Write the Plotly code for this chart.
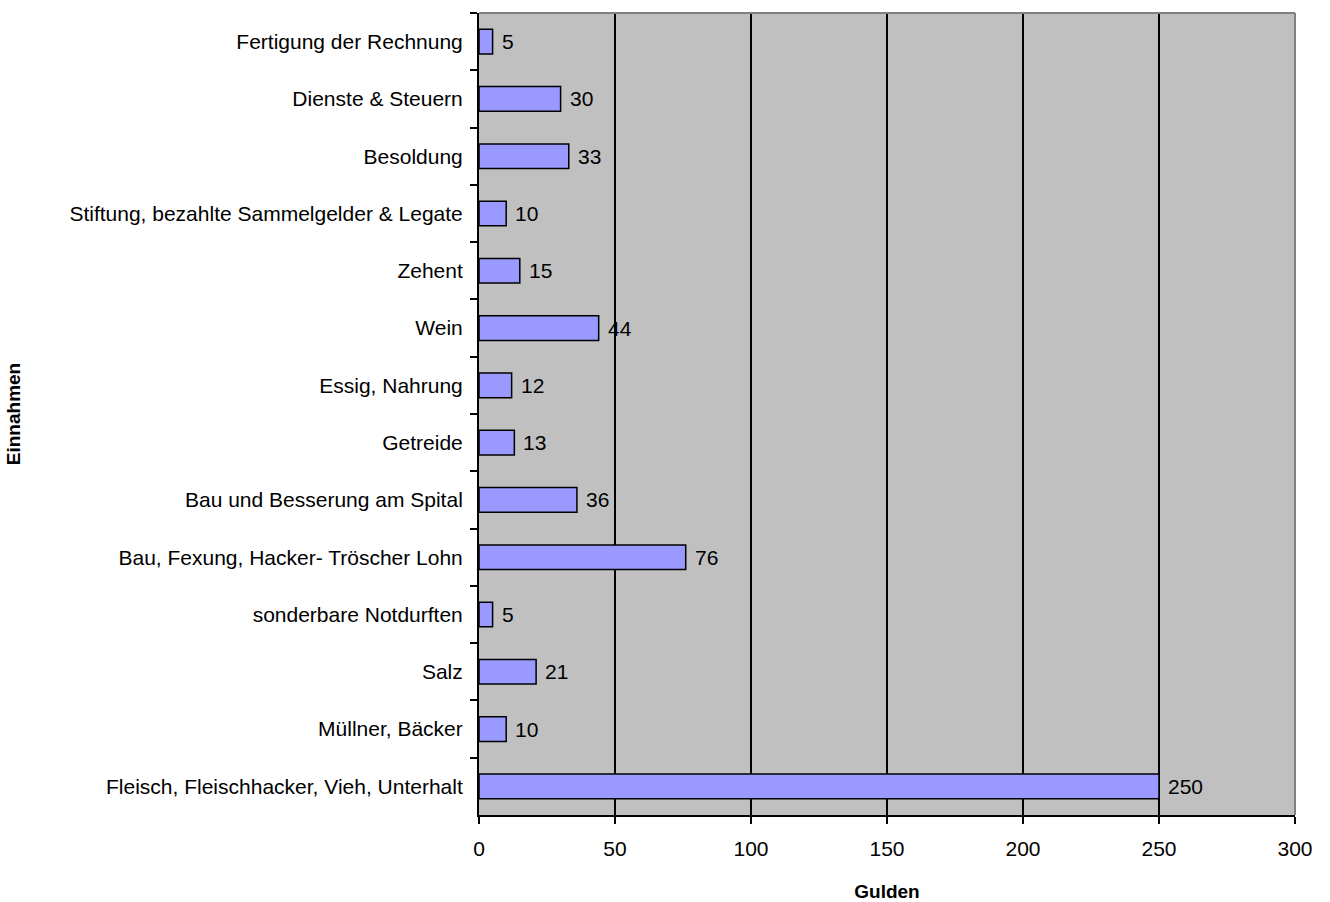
import plotly.graph_objects as go

# Ausgaben-Kategorien (von oben nach unten) und Beträge in Gulden
categories = [
    "Fertigung der Rechnung",
    "Dienste & Steuern",
    "Besoldung",
    "Stiftung, bezahlte Sammelgelder & Legate",
    "Zehent",
    "Wein",
    "Essig, Nahrung",
    "Getreide",
    "Bau und Besserung am Spital",
    "Bau, Fexung, Hacker- Tröscher Lohn",
    "sonderbare Notdurften",
    "Salz",
    "Müllner, Bäcker",
    "Fleisch, Fleischhacker, Vieh, Unterhalt",
]
values = [5, 30, 33, 10, 15, 44, 12, 13, 36, 76, 5, 21, 10, 250]
x_ticks = [0, 50, 100, 150, 200, 250, 300]

FONT = "Liberation Sans, Arial, sans-serif"
FS = 21

fig = go.Figure(
    go.Bar(
        x=values,
        y=categories,
        orientation="h",
        marker=dict(color="#9999FF", line=dict(color="black", width=1.5)),
        width=0.43,
        hoverinfo="x+y",
    )
)

# Wertbeschriftungen rechts neben jedem Balken
for cat, val in zip(categories, values):
    fig.add_annotation(
        x=val, y=cat, xref="x", yref="y",
        text=str(val), showarrow=False,
        xanchor="left", yanchor="middle", xshift=7,
        font=dict(family=FONT, size=FS, color="black"),
    )

fig.update_layout(
    width=1330,
    height=902,
    margin=dict(l=479, r=35, t=13, b=87),
    paper_bgcolor="white",
    plot_bgcolor="#C0C0C0",
    font=dict(family=FONT, size=FS, color="black"),
    showlegend=False,
    xaxis=dict(
        range=[0, 300],
        tickvals=x_ticks,
        automargin=False,
        showgrid=True,
        gridcolor="black",
        gridwidth=1.5,
        zeroline=False,
        showline=True,
        linecolor="black",
        linewidth=2,
        ticks="outside",
        ticklen=7,
        tickwidth=2,
        tickcolor="black",
        ticklabelstandoff=7,
        title=dict(text="<b>Gulden</b>", font=dict(size=19), standoff=31),
    ),
    yaxis=dict(
        autorange="reversed",
        automargin=False,
        showgrid=False,
        zeroline=False,
        showline=True,
        linecolor="black",
        linewidth=2,
        ticks="outside",
        tickson="boundaries",
        ticklen=7,
        tickwidth=2,
        tickcolor="black",
        ticklabelstandoff=10,
        title=dict(text="<b>Einnahmen</b>", font=dict(size=19), standoff=44),
    ),
    shapes=[
        dict(type="line", xref="paper", yref="paper", x0=0, x1=1, y0=1, y1=1,
             line=dict(color="#808080", width=2)),
        dict(type="line", xref="paper", yref="paper", x0=1, x1=1, y0=0, y1=1,
             line=dict(color="#808080", width=2)),
    ],
)

fig.write_html("out.html")
